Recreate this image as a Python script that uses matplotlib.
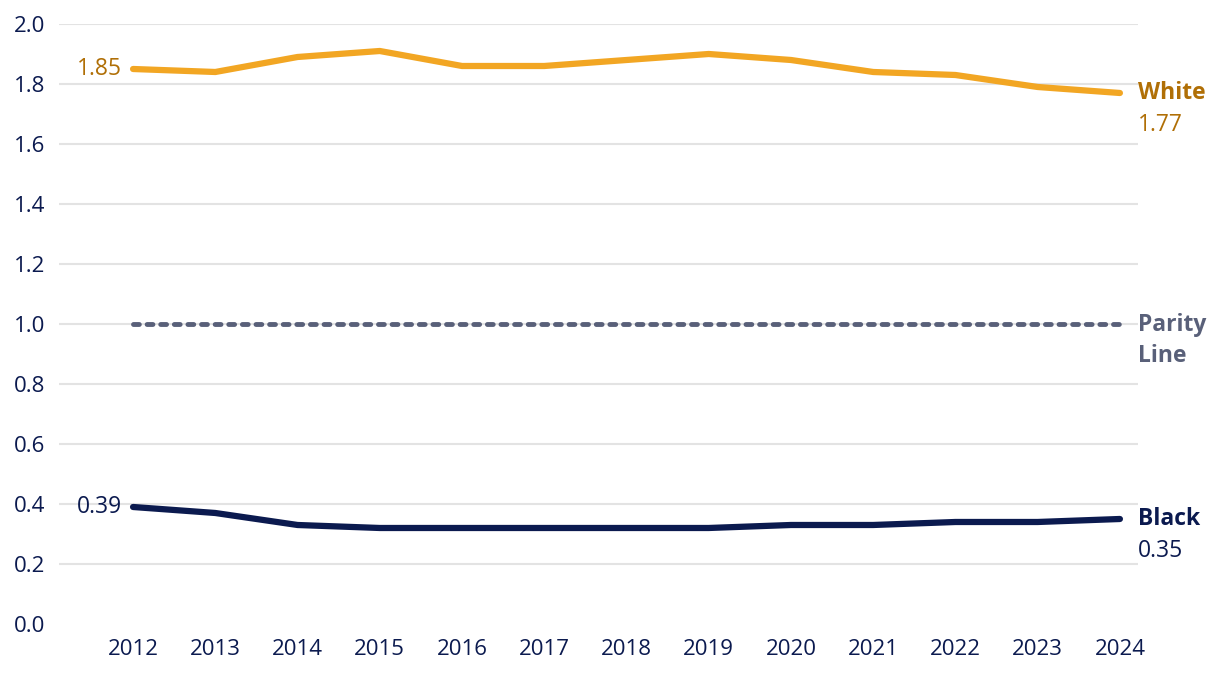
import matplotlib
matplotlib.use("Agg")
import matplotlib.pyplot as plt

years = [2012, 2013, 2014, 2015, 2016, 2017, 2018, 2019, 2020, 2021, 2022, 2023, 2024]
white = [1.85, 1.84, 1.89, 1.91, 1.86, 1.86, 1.88, 1.90, 1.88, 1.84, 1.83, 1.79, 1.77]
black = [0.39, 0.37, 0.33, 0.32, 0.32, 0.32, 0.32, 0.32, 0.33, 0.33, 0.34, 0.34, 0.35]
parity = [1.0] * len(years)
yticks = [0.0, 0.2, 0.4, 0.6, 0.8, 1.0, 1.2, 1.4, 1.6, 1.8, 2.0]

ORANGE = "#F2A623"
ORANGE_TXT = "#B06F06"
NAVY = "#0B1A4F"
GRAY = "#596079"
GRID = "#E3E3E3"

plt.rcParams['font.family'] = ['Open Sans', 'DejaVu Sans']

fig = plt.figure(figsize=(12.2, 6.74), dpi=100)
ax = fig.add_axes([0.0484, 0.0742, 0.8844, 0.8902])

for t in yticks[1:]:
    ax.axhline(t, color=GRID, lw=1.5, zorder=0)

ax.plot(years, white, color=ORANGE, lw=4.5, solid_capstyle='round', zorder=3)
ax.plot(years, black, color=NAVY, lw=4.5, solid_capstyle='round', zorder=3)
ax.plot(years, parity, color=GRAY, lw=3.5, linestyle=(0, (1.2, 1.6)), dash_capstyle='round', zorder=2)

ax.set_xlim(2011.1, 2024.22)
ax.set_ylim(0, 2.0)
ax.set_yticks(yticks)
ax.set_yticklabels([f"{t:.1f}" for t in yticks])
ax.set_xticks(years)
ax.set_xticklabels([str(y) for y in years])
ax.tick_params(axis='both', length=0, labelsize=16, colors=NAVY)
ax.tick_params(axis='y', pad=10)
ax.tick_params(axis='x', pad=11)
for s in ax.spines.values():
    s.set_visible(False)

FS = 16.5
# start labels
ax.annotate(f"{white[0]:.2f}", (years[0], white[0]), xytext=(-8, 0), textcoords='offset points',
            ha='right', va='center', fontsize=FS, color=ORANGE_TXT)
ax.annotate(f"{black[0]:.2f}", (years[0], black[0]), xytext=(-8, 0), textcoords='offset points',
            ha='right', va='center', fontsize=FS, color=NAVY)

# end labels
ax.annotate("White", (years[-1], white[-1]), xytext=(13, 0), textcoords='offset points',
            ha='left', va='center', fontsize=FS, fontweight='bold', color=ORANGE_TXT)
ax.annotate(f"{white[-1]:.2f}", (years[-1], white[-1]), xytext=(13, -23), textcoords='offset points',
            ha='left', va='center', fontsize=FS, color=ORANGE_TXT)
ax.annotate("Black", (years[-1], black[-1]), xytext=(13, 0), textcoords='offset points',
            ha='left', va='center', fontsize=FS, fontweight='bold', color=NAVY)
ax.annotate(f"{black[-1]:.2f}", (years[-1], black[-1]), xytext=(13, -23), textcoords='offset points',
            ha='left', va='center', fontsize=FS, color=NAVY)
ax.annotate("Parity", (years[-1], 1.0), xytext=(13, -1), textcoords='offset points',
            ha='left', va='center', fontsize=FS, fontweight='bold', color=GRAY)
ax.annotate("Line", (years[-1], 1.0), xytext=(13, -23), textcoords='offset points',
            ha='left', va='center', fontsize=FS, fontweight='bold', color=GRAY)

fig.savefig("out.png", dpi=100)
